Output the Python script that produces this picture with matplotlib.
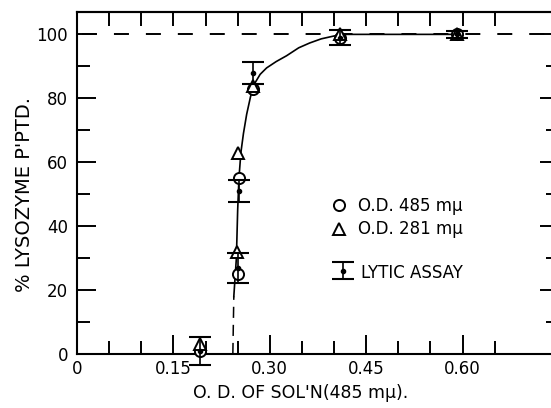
import numpy as np
import matplotlib
matplotlib.use('Agg')
import matplotlib.pyplot as plt
from matplotlib.ticker import FixedLocator

plt.rcParams['font.family'] = ['DejaVu Sans']
plt.rcParams['lines.scale_dashes'] = False

# O.D. 485 mu (open circles)
od485_x = [0.191, 0.250, 0.252, 0.274, 0.410, 0.591]
od485_y = [1, 25, 55, 83, 99, 100]
# O.D. 281 mu (open triangles)
od281_x = [0.191, 0.249, 0.250, 0.274, 0.410, 0.591]
od281_y = [3, 32, 63, 84, 100, 100]
# lytic assay (error bars)
lyt_x = [0.191, 0.250, 0.252, 0.274, 0.410, 0.591]
lyt_y = [1, 27, 51, 88, 99, 100]
lyt_err = [4.4, 4.7, 3.4, 3.5, 2.3, 1.0]

# hand drawn curve
curve_x = [0.244, 0.248, 0.250, 0.252, 0.255, 0.259, 0.264, 0.270, 0.276,
           0.285, 0.295, 0.310, 0.326, 0.345, 0.362, 0.380, 0.400, 0.420,
           0.500, 0.591]
curve_y = [18, 30, 45, 55, 63, 69, 75, 80.5, 84.5, 87.5, 89.5, 91.5, 93.3,
           95.8, 97.3, 98.6, 99.5, 100, 100, 100]
# dashed extrapolation down to the x axis
dash_x = [0.2425, 0.244]
dash_y = [0, 18]

xticks = [0, 0.15, 0.30, 0.45, 0.60]
xtick_labels = ['0', '0.15', '0.30', '0.45', '0.60']
xminor = [0.05, 0.10, 0.20, 0.25, 0.35, 0.40, 0.50, 0.55, 0.65]
xtop = [0.05, 0.10, 0.15, 0.20, 0.25, 0.30, 0.35, 0.40, 0.45, 0.50, 0.55,
        0.60, 0.65]
yticks = [0, 20, 40, 60, 80, 100]
yminor = [10, 30, 50, 70, 90]

fig = plt.figure(figsize=(5.51, 4.08), dpi=100)
ax = fig.add_axes([77 / 551, 54 / 408, 482 / 551, 342 / 408])

ax.axhline(100, color='k', lw=1.4, linestyle=(-3.6, (10.8, 12.2)))
ax.plot(dash_x, dash_y, color='k', lw=1.1, linestyle=(0, (8, 5)), clip_on=False)
ax.plot(curve_x, curve_y, color='k', lw=1.2)

ax.plot(od485_x, od485_y, 'o', ms=8, mfc='white', mec='k', mew=1.4,
        clip_on=False, label='O.D. 485 m\u03bc', zorder=4)
ax.plot(od281_x, od281_y, '^', ms=9, mfc='white', mec='k', mew=1.4,
        clip_on=False, label='O.D. 281 m\u03bc', zorder=4)
eb = ax.errorbar(lyt_x, lyt_y, yerr=lyt_err, fmt='o', ms=3, color='k',
                 capsize=8, elinewidth=1.2, capthick=1.5, clip_on=False,
                 label='LYTIC ASSAY', zorder=5)
for a in eb.lines[1] + eb.lines[2]:
    a.set_clip_on(False)

ax.set_xlim(0, 0.75)
ax.set_ylim(0, 107)
ax.set_xticks(xticks)
ax.set_xticklabels(xtick_labels)
ax.xaxis.set_minor_locator(FixedLocator(xminor))
ax.set_yticks(yticks)
ax.yaxis.set_minor_locator(FixedLocator(yminor))
ax.tick_params(which='both', direction='in', top=False, right=True,
               width=1.4, labelsize=12)
ax.tick_params(which='major', length=13.7)
ax.tick_params(which='minor', length=9.4)
ax.tick_params(axis='x', pad=4)
ax.tick_params(axis='y', pad=6.5)
for s in ax.spines.values():
    s.set_linewidth(1.5)

top = ax.secondary_xaxis('top')
top.set_xticks(xtop)
top.tick_params(direction='in', length=10, width=1.4, labeltop=False)
top.spines['top'].set_linewidth(1.5)

h, l = ax.get_legend_handles_labels()
leg1 = ax.legend(h[:2], l[:2], loc='center left',
                 bbox_to_anchor=(0.496, 0.399), frameon=False, fontsize=12,
                 handlelength=1.0, handletextpad=0.6, labelspacing=0.35)
ax.add_artist(leg1)
ax.legend(h[2:], l[2:], loc='center left', bbox_to_anchor=(0.503, 0.237),
          frameon=False, fontsize=12, handlelength=1.0, handleheight=1.5,
          handletextpad=0.6)

fig.text(25 / 551, 1 - 195 / 408, "% LYSOZYME P'PTD.", rotation=90,
         ha='center', va='center', fontsize=14)
fig.text(301 / 551, 1 - 393 / 408, "O. D. OF SOL'N(485 m\u03bc).",
         ha='center', va='center', fontsize=12.5)

fig.savefig('out.png', dpi=100)
